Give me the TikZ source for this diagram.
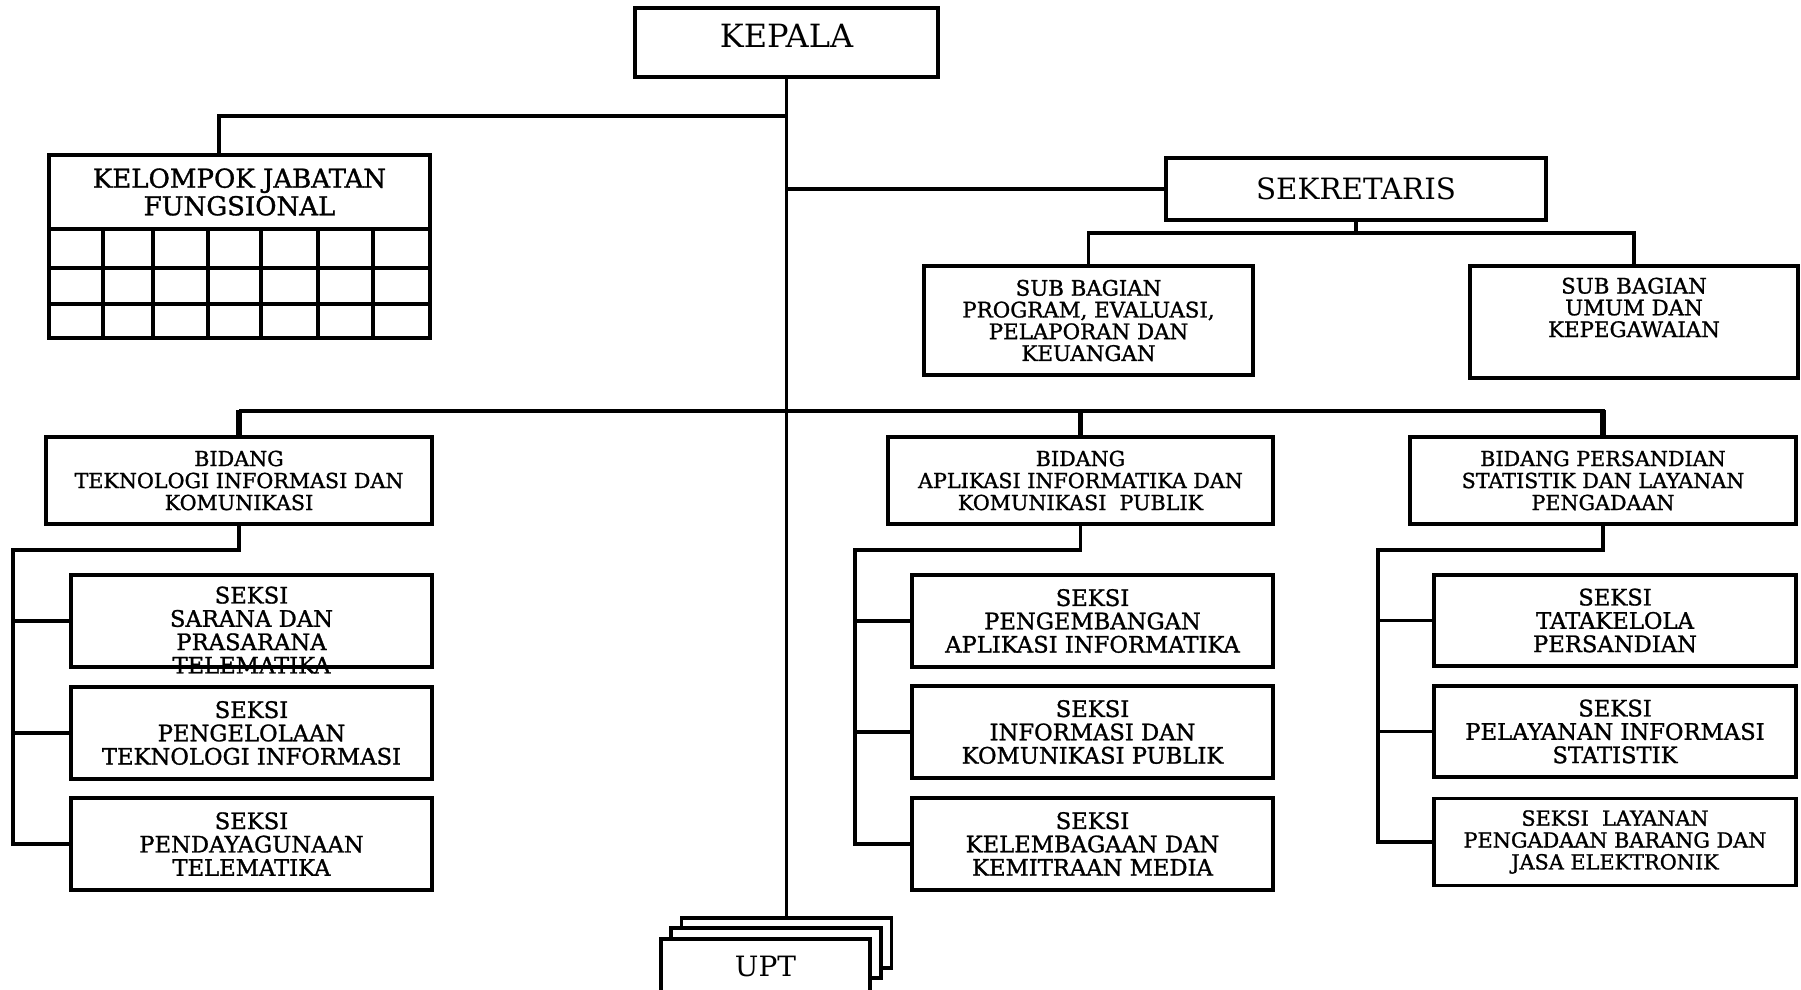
\documentclass[tikz,border=0pt]{standalone}
\usepackage{fontspec}
\setmainfont{DejaVu Serif}
\newfontfamily\heavyserif{DejaVu Serif}[FakeBold=1.2]
\begin{document}
\begin{tikzpicture}[x=0.75pt,y=-0.75pt,
  ln/.style={line width=2.6pt},
  thk/.style={line width=4.4pt},
  box/.style={draw,line width=2.6pt,fill=white,inner sep=0pt,outer sep=0pt,align=center},
  wh/.style 2 args={minimum width=#1*0.75pt,minimum height=#2*0.75pt},
  fkep/.style={font=\fontsize{24}{28}\selectfont},
  fsek/.style={font=\fontsize{22}{26}\selectfont},
  fkjf/.style={font=\heavyserif\fontsize{19.5}{20.7}\selectfont},
  fbid/.style={font=\heavyserif\fontsize{15.5}{16.5}\selectfont},
  fsb/.style={font=\heavyserif\fontsize{16}{16.3}\selectfont},
  fsx/.style={font=\heavyserif\fontsize{17}{17.5}\selectfont},
  fsy/.style={font=\heavyserif\fontsize{15.6}{16.4}\selectfont},
  fupt/.style={font=\fontsize{21}{24}\selectfont},
  txt/.style={align=center,inner sep=0pt}
]
\fill[white] (0,0) rectangle (1801,989);
\useasboundingbox (0,0) rectangle (1801,989);

% top
\node[box,wh={303}{69}] (kepala) at (786.5,42.5) {};
\node[txt,fkep] (kepalaT) at (786.5,36) {KEPALA};

\node[box,wh={381}{74},fkjf] (kjf) at (239.5,192) {KELOMPOK JABATAN\\FUNGSIONAL};
\node[box,wh={381}{109}] (kjfgrid) at (239.5,283.5) {};
\foreach \x in {103,153,208,261,318,373} \draw[ln] (\x,229) -- (\x,338);
\foreach \y in {268,304} \draw[ln] (49,\y) -- (430,\y);

\node[box,wh={380}{62},fsek] (sek) at (1356,189) {SEKRETARIS};
\node[box,wh={329}{109},fsb] (sb1) at (1088.5,320.5) {SUB BAGIAN\\PROGRAM, EVALUASI,\\PELAPORAN DAN\\KEUANGAN};
\node[box,wh={328}{112}] (sb2) at (1634,322) {};
\node[txt,fsb] (sb2T) at (1634,307.5) {SUB BAGIAN\\UMUM DAN\\KEPEGAWAIAN};

% bidang
\node[box,wh={386}{87},fbid] (bid1) at (239,480.5) {BIDANG\\TEKNOLOGI INFORMASI DAN\\KOMUNIKASI};
\node[box,wh={385}{87},fbid] (bid2) at (1080.5,480.5) {BIDANG\\APLIKASI INFORMATIKA DAN\\KOMUNIKASI~~PUBLIK};
\node[box,wh={386}{87},fbid] (bid3) at (1603,480.5) {BIDANG PERSANDIAN\\STATISTIK DAN LAYANAN\\PENGADAAN};

% seksi left
\node[box,wh={361}{92}] (s11) at (251.5,621) {};
\node[txt,fsx] (s11T) at (251.5,630) {SEKSI\\SARANA DAN\\PRASARANA\\TELEMATIKA};
\node[box,wh={361}{92},fsx] (s12) at (251.5,733) {SEKSI\\PENGELOLAAN\\TEKNOLOGI INFORMASI};
\node[box,wh={361}{92},fsx] (s13) at (251.5,844) {SEKSI\\PENDAYAGUNAAN\\TELEMATIKA};
% seksi middle
\node[box,wh={361}{92},fsx] (s21) at (1092.5,621) {SEKSI\\PENGEMBANGAN\\APLIKASI INFORMATIKA};
\node[box,wh={361}{92},fsx] (s22) at (1092.5,732) {SEKSI\\INFORMASI DAN\\KOMUNIKASI PUBLIK};
\node[box,wh={361}{92},fsx] (s23) at (1092.5,844) {SEKSI\\KELEMBAGAAN DAN\\KEMITRAAN MEDIA};
% seksi right
\node[box,wh={362}{91},fsx] (s31) at (1615,620.5) {SEKSI\\TATAKELOLA\\PERSANDIAN};
\node[box,wh={362}{91},fsx] (s32) at (1615,731.5) {SEKSI\\PELAYANAN INFORMASI\\STATISTIK};
\node[box,wh={362}{87},fsy] (s33) at (1615,842) {SEKSI~~LAYANAN\\PENGADAAN BARANG DAN\\JASA ELEKTRONIK};

% UPT stack
\node[box,wh={210}{50}] (upt3) at (786.5,943) {};
\node[box,wh={210}{50}] (upt2) at (776,953) {};
\node[box,wh={209}{54},fupt] (upt1) at (765.5,966) {UPT};

% connectors
\draw[ln] (kepala.south) -- (upt3.north);
\coordinate (jkjf) at (786.5,116);
\draw[ln] (jkjf) -| ([xshift=-15.4pt]kjf.north);
\draw[ln] (sek.west) -- (sek.west -| kepala.south);
\draw[ln] (sek.south) -- ++(0,13);
\draw[ln] (sb1.north) -- ++(0,-33) -| (sb2.north);

\draw[ln] (bid1.north) ++(0,-26) -| (bid3.north);
\draw[thk] (bid1.north) -- ++(0,-27);
\draw[thk] (bid2.north) -- ++(0,-27);
\draw[thk] (bid3.north) -- ++(0,-27);

\coordinate (c1) at (13,550);
\coordinate (c2) at (855,550);
\coordinate (c3) at (1378,550);
\draw[ln] (bid1.south) |- (c1) |- (s13.west);
\draw[ln] (s11.west) -- (s11.west -| c1);
\draw[ln] (s12.west) -- (s12.west -| c1);
\draw[ln] (bid2.south) |- (c2) |- (s23.west);
\draw[ln] (s21.west) -- (s21.west -| c2);
\draw[ln] (s22.west) -- (s22.west -| c2);
\draw[ln] (bid3.south) |- (c3) |- (s33.west);
\draw[ln] (s31.west) -- (s31.west -| c3);
\draw[ln] (s32.west) -- (s32.west -| c3);
\end{tikzpicture}
\end{document}
